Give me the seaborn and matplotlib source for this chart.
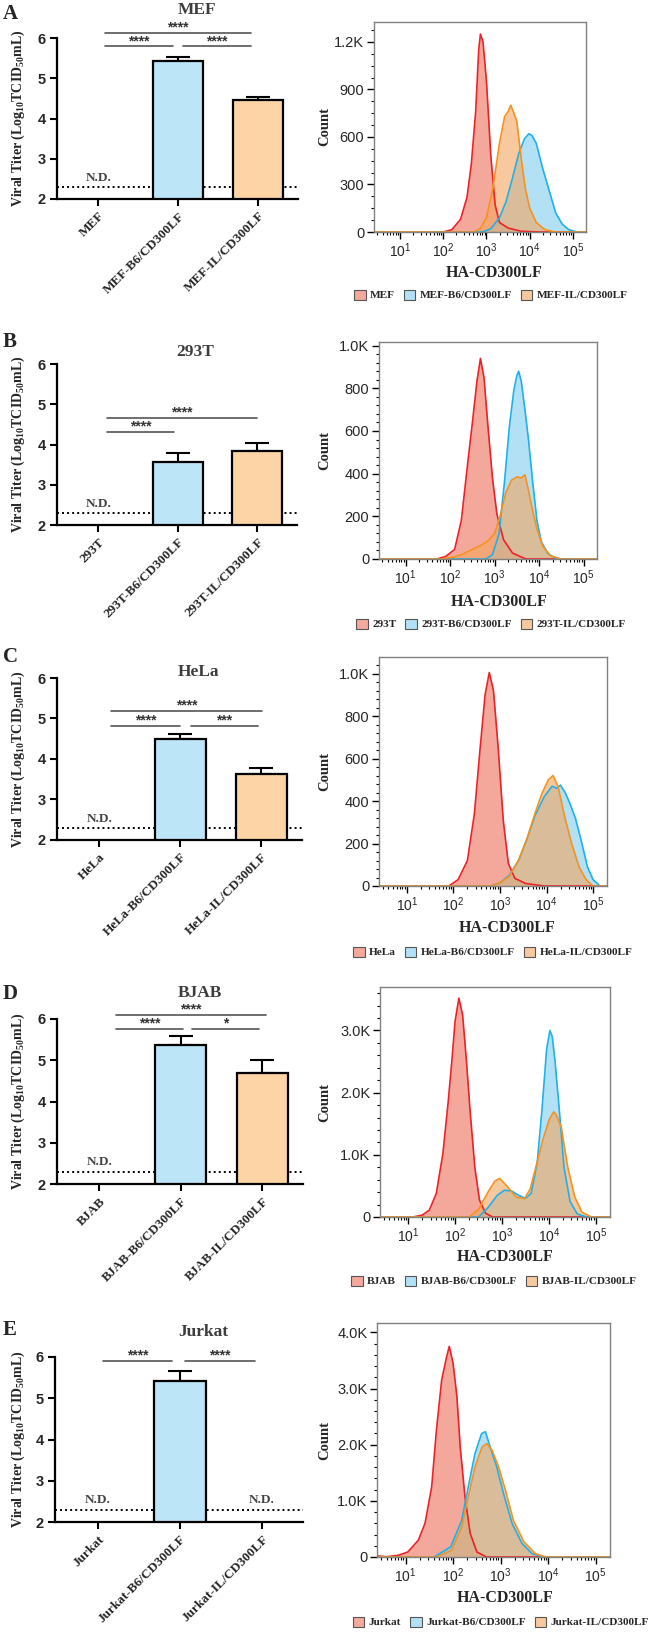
import numpy as np
import pandas as pd
import matplotlib
matplotlib.use("Agg")
import matplotlib.pyplot as plt
import seaborn as sns
from matplotlib.patches import Patch
from matplotlib.ticker import LogLocator, NullFormatter, AutoMinorLocator

sns.set_style("ticks")
plt.rcParams['font.family'] = ['Liberation Sans', 'DejaVu Sans']
plt.rcParams['mathtext.fontset'] = 'custom'
plt.rcParams['mathtext.rm'] = 'Liberation Serif:bold'
plt.rcParams['mathtext.bf'] = 'Liberation Serif:bold'
plt.rcParams['mathtext.it'] = 'Liberation Serif:italic:bold'
plt.rcParams['mathtext.sf'] = 'Liberation Sans'

SERIF = 'Liberation Serif'

# ---------------- data ----------------
panel_letters = ["A", "B", "C", "D", "E"]
cell_lines = ["MEF", "293T", "HeLa", "BJAB", "Jurkat"]
suffixes = ["", "-B6/CD300LF", "-IL/CD300LF"]

# mean viral titer (log10 TCID50/mL) and SEM, NaN = not detected
titer_mean = [
    [np.nan, 5.44, 4.45],
    [np.nan, 3.56, 3.83],
    [np.nan, 4.49, 3.64],
    [np.nan, 5.38, 4.70],
    [np.nan, 5.43, np.nan],
]
titer_sem = [
    [0, 0.10, 0.08],
    [0, 0.24, 0.20],
    [0, 0.12, 0.13],
    [0, 0.20, 0.30],
    [0, 0.22, 0],
]
detection_limit = 2.3

# significance brackets: (x1, x2, y, label)
sig_brackets = [
    [(0.08, 1.91, 6.12, "****"), (0.08, 0.93, 5.79, "****"), (1.06, 1.91, 5.79, "****")],
    [(0.11, 2.00, 4.67, "****"), (0.11, 0.95, 4.32, "****")],
    [(0.15, 2.01, 5.18, "****"), (0.15, 0.99, 4.82, "****"), (1.13, 1.96, 4.82, "***")],
    [(0.20, 2.05, 6.10, "****"), (0.20, 1.03, 5.75, "****"), (1.14, 1.96, 5.75, "*")],
    [(0.06, 0.91, 5.91, "****"), (1.06, 1.91, 5.91, "****")],
]

# flow histograms: log10(HA-CD300LF) vs count
mef_parent_x = [0.4, 2.0, 2.2, 2.4, 2.55, 2.65, 2.75, 2.82, 2.86, 2.92, 3.0, 3.1, 3.2, 3.3, 3.5, 3.8, 4.2, 5.3]
mef_parent_y = [0, 0, 15, 80, 220, 430, 760, 1150, 1250, 1200, 950, 480, 170, 60, 25, 5, 0, 0]
mef_b6_x = [0.4, 2.9, 3.1, 3.3, 3.45, 3.6, 3.75, 3.88, 3.98, 4.05, 4.15, 4.3, 4.45, 4.6, 4.75, 4.9, 5.1, 5.3]
mef_b6_y = [0, 0, 20, 90, 190, 340, 500, 590, 620, 610, 560, 400, 260, 120, 50, 15, 0, 0]
mef_il_x = [0.4, 2.7, 2.85, 3.0, 3.15, 3.3, 3.42, 3.5, 3.56, 3.62, 3.7, 3.8, 3.9, 4.0, 4.15, 4.35, 4.6, 5.3]
mef_il_y = [0, 0, 20, 90, 280, 560, 730, 760, 800, 760, 700, 470, 270, 150, 60, 15, 0, 0]

t293_parent_x = [0.4, 1.7, 1.9, 2.1, 2.25, 2.4, 2.5, 2.6, 2.68, 2.76, 2.85, 2.95, 3.05, 3.2, 3.4, 3.7, 5.3]
t293_parent_y = [0, 0, 12, 45, 180, 460, 640, 830, 940, 850, 620, 380, 210, 90, 28, 0, 0]
t293_b6_x = [0.4, 2.8, 2.95, 3.1, 3.22, 3.33, 3.43, 3.5, 3.54, 3.6, 3.68, 3.76, 3.85, 3.95, 4.05, 4.2, 4.4, 5.3]
t293_b6_y = [0, 0, 20, 120, 360, 620, 790, 860, 880, 830, 700, 560, 370, 180, 80, 25, 0, 0]
t293_il_x = [0.4, 1.8, 2.1, 2.3, 2.5, 2.7, 2.85, 3.0, 3.12, 3.25, 3.38, 3.5, 3.6, 3.68, 3.75, 3.85, 3.95, 4.08, 4.25, 4.5, 5.3]
t293_il_y = [0, 0, 10, 25, 45, 65, 85, 120, 200, 310, 370, 385, 380, 395, 330, 230, 140, 60, 15, 0, 0]

hela_parent_x = [0.4, 1.9, 2.1, 2.3, 2.45, 2.57, 2.68, 2.77, 2.86, 2.96, 3.07, 3.18, 3.32, 3.55, 3.95, 5.3]
hela_parent_y = [0, 0, 30, 120, 340, 640, 900, 1005, 920, 655, 310, 106, 36, 12, 0, 0]
hela_b6_x = [0.4, 2.8, 3.0, 3.2, 3.4, 3.57, 3.75, 3.95, 4.12, 4.22, 4.3, 4.4, 4.5, 4.62, 4.75, 4.88, 5.0, 5.15, 5.3]
hela_b6_y = [0, 0, 15, 50, 120, 215, 330, 420, 470, 460, 475, 440, 390, 320, 210, 90, 30, 0, 0]
hela_il_x = [0.4, 2.8, 3.0, 3.2, 3.4, 3.57, 3.75, 3.9, 4.04, 4.14, 4.25, 4.39, 4.54, 4.7, 4.85, 5.0, 5.3]
hela_il_y = [0, 0, 15, 45, 122, 216, 340, 435, 500, 520, 467, 326, 200, 90, 30, 0, 0]

bjab_parent_x = [0.4, 1.1, 1.3, 1.45, 1.6, 1.74, 1.85, 1.93, 2.0, 2.08, 2.16, 2.24, 2.32, 2.42, 2.52, 2.65, 2.8, 5.3]
bjab_parent_y = [0, 0, 30, 110, 380, 1020, 1830, 2500, 3150, 3520, 3250, 2530, 1700, 800, 270, 60, 0, 0]
bjab_b6_x = [0.4, 2.5, 2.7, 2.9, 3.05, 3.2, 3.35, 3.5, 3.62, 3.75, 3.85, 3.95, 4.02, 4.07, 4.13, 4.22, 4.32, 4.45, 4.6, 4.8, 5.3]
bjab_b6_y = [0, 0, 150, 350, 430, 420, 350, 300, 380, 880, 1720, 2700, 3000, 2900, 2500, 1720, 800, 250, 50, 0, 0]
bjab_il_x = [0.4, 2.3, 2.5, 2.7, 2.85, 2.95, 3.1, 3.3, 3.48, 3.6, 3.72, 3.87, 4.0, 4.1, 4.15, 4.26, 4.4, 4.55, 4.7, 4.9, 5.3]
bjab_il_y = [0, 0, 120, 400, 580, 620, 500, 320, 296, 450, 800, 1240, 1560, 1690, 1650, 1450, 800, 320, 80, 0, 0]

jurkat_parent_x = [0.4, 0.6, 0.85, 1.05, 1.27, 1.41, 1.55, 1.65, 1.76, 1.86, 1.92, 2.0, 2.08, 2.15, 2.25, 2.36, 2.5, 2.7, 5.3]
jurkat_parent_y = [20, 5, 30, 90, 300, 600, 1250, 2260, 3150, 3550, 3750, 3450, 2860, 1960, 1070, 420, 90, 0, 0]
jurkat_b6_x = [0.4, 1.6, 1.95, 2.18, 2.32, 2.46, 2.6, 2.68, 2.78, 2.92, 3.06, 3.24, 3.45, 3.66, 3.9, 5.3]
jurkat_b6_y = [0, 0, 180, 650, 1250, 1840, 2200, 2230, 1960, 1600, 1130, 600, 240, 60, 0, 0]
jurkat_il_x = [0.4, 1.65, 1.97, 2.18, 2.32, 2.46, 2.61, 2.71, 2.82, 2.96, 3.1, 3.27, 3.49, 3.73, 3.95, 5.3]
jurkat_il_y = [0, 0, 120, 535, 1070, 1600, 1960, 2020, 1900, 1600, 1190, 650, 270, 60, 0, 0]

hist_curves = [
    [(mef_parent_x, mef_parent_y), (mef_b6_x, mef_b6_y), (mef_il_x, mef_il_y)],
    [(t293_parent_x, t293_parent_y), (t293_b6_x, t293_b6_y), (t293_il_x, t293_il_y)],
    [(hela_parent_x, hela_parent_y), (hela_b6_x, hela_b6_y), (hela_il_x, hela_il_y)],
    [(bjab_parent_x, bjab_parent_y), (bjab_b6_x, bjab_b6_y), (bjab_il_x, bjab_il_y)],
    [(jurkat_parent_x, jurkat_parent_y), (jurkat_b6_x, jurkat_b6_y), (jurkat_il_x, jurkat_il_y)],
]
hist_ymax = [1326, 1017, 1078, 3699, 4167]
hist_ystep = [300, 200, 200, 1000, 1000]
hist_yminor = [4, 5, 5, 5, 5]

# ---------------- style ----------------
bar_colors = ["#ffffff", "#bde5f8", "#fdd4a6"]
fill_colors = ["#ee6e5a", "#7fcdf0", "#f4a55f"]
line_colors = ["#ec2227", "#1eb1ec", "#f6921e"]
legend_colors = ["#f5a89c", "#b2e1f6", "#f8c99f"]

W, H = 653, 1632


def rect(x0, x1, y0, y1):
    return [x0 / W, 1 - y1 / H, (x1 - x0) / W, (y1 - y0) / H]


bar_boxes = [(57, 298, 38, 199), (57, 297, 364, 525), (57, 302, 678, 840),
             (57, 303, 1019, 1184), (55, 303, 1357, 1522)]
hist_boxes = [(374, 586, 22, 232), (379, 597, 342, 559), (379, 607, 657, 886),
              (380, 610, 987, 1217), (377, 610, 1323, 1557)]
letter_y = [14, 342, 657, 994, 1330]
title_pos = [(197, 10), (195, 352), (198, 672), (200, 993), (203, 1332)]
xlabel_pos = [(494, 273), (499, 602), (507, 928), (505, 1257), (505, 1598)]
legend_pos = [(491, 295), (491, 624), (493, 952), (494, 1281), (501, 1622)]

fig = plt.figure(figsize=(W / 100, H / 100), dpi=100)

for k in range(5):
    name = cell_lines[k]
    cats = [name + s for s in suffixes]

    # ---------- bar chart ----------
    x0, x1, y0, y1 = bar_boxes[k]
    ax = fig.add_axes(rect(x0, x1, y0, y1))
    df = pd.DataFrame({"cat": cats, "titer": titer_mean[k], "sem": titer_sem[k]})
    ax.axhline(detection_limit, color="black", ls=(0, (1, 1.6)), lw=1.4, zorder=0.5)
    sns.barplot(data=df.dropna(), x="cat", y="titer", order=cats, hue="cat",
                palette=dict(zip(cats, bar_colors)), legend=False, saturation=1,
                edgecolor="black", linewidth=1.6, width=0.63, ax=ax, zorder=2)
    ok = df.dropna()
    pos = [cats.index(c) for c in ok["cat"]]
    ax.errorbar(pos, ok["titer"], yerr=[np.zeros(len(ok)), ok["sem"]], fmt="none",
                ecolor="black", elinewidth=1.5, capsize=8.5, capthick=1.5, zorder=1.5)
    for i, v in enumerate(titer_mean[k]):
        if np.isnan(v):
            ax.text(i, detection_limit + 0.08, "N.D.", ha="center", va="bottom",
                    family=SERIF, fontweight="bold", fontsize=9.5, color="#444444")
    for (a, b, y, lab) in sig_brackets[k]:
        ax.plot([a, b], [y, y], color="#555555", lw=1.2, clip_on=False)
        ax.annotate(lab, xy=((a + b) / 2, y), xytext=(0, 1), textcoords="offset points",
                    ha="center", va="baseline", fontsize=10, fontweight="bold",
                    color="#333333", annotation_clip=False)
    ax.set_xlim(-0.52, 2.5)
    ax.set_ylim(2, 6)
    ax.set_yticks([2, 3, 4, 5, 6], labels=["2", "3", "4", "5", "6"],
                  fontweight="bold", fontsize=10.5)
    ax.set_xticks([0, 1, 2], labels=cats, rotation=45, ha="right",
                  rotation_mode="anchor", family=SERIF, fontweight="bold", fontsize=9.5)
    ax.tick_params(axis="both", length=5, width=1.5, direction="out", pad=3, color="black")
    for sp in ["left", "bottom"]:
        ax.spines[sp].set_linewidth(1.6)
        ax.spines[sp].set_color("black")
    sns.despine(ax=ax)
    ax.set_xlabel("")
    ax.set_ylabel(r"Viral Titer (Log$_{10}$TCID$_{50}$mL)", family=SERIF,
                  fontweight="bold", fontsize=10)
    ax.yaxis.set_label_coords((27 - x0) / (x1 - x0), 0.5)

    fig.text(3 / W, 1 - letter_y[k] / H, panel_letters[k], family=SERIF,
             fontweight="bold", fontsize=15, va="center", ha="left")
    fig.text(title_pos[k][0] / W, 1 - title_pos[k][1] / H, name, family=SERIF,
             fontweight="bold", fontsize=12.5, color="#3d3d3d", ha="center", va="center")

    # ---------- histogram ----------
    hx0, hx1, hy0, hy1 = hist_boxes[k]
    hx = fig.add_axes(rect(hx0, hx1, hy0, hy1))
    for j, (lx, cy) in enumerate(hist_curves[k]):
        xs = 10 ** np.asarray(lx, dtype=float)
        hx.fill_between(xs, cy, color=fill_colors[j], alpha=0.6, lw=0)
        sns.lineplot(x=xs, y=cy, color=line_colors[j], lw=1.2, ax=hx,
                     sort=False, estimator=None)
    hx.set_xscale("log")
    hx.set_xlim(10 ** 0.4, 10 ** 5.3)
    hx.set_ylim(0, hist_ymax[k])
    hx.set_xticks([10, 100, 1e3, 1e4, 1e5],
                  labels=[r"$\mathsf{10^{%d}}$" % e for e in range(1, 6)], fontsize=10)
    hx.xaxis.set_minor_locator(LogLocator(base=10, subs=np.arange(2, 10)))
    hx.xaxis.set_minor_formatter(NullFormatter())
    yt = np.arange(0, hist_ymax[k], hist_ystep[k])
    ylabs = [("%.1fK" % (v / 1000)) if v >= 1000 else "%d" % v for v in yt]
    hx.set_yticks(yt, labels=ylabs, fontsize=10.5)
    hx.yaxis.set_minor_locator(AutoMinorLocator(hist_yminor[k]))
    hx.tick_params(which="major", length=5, width=1, color="black", direction="out", pad=2)
    hx.tick_params(which="minor", length=2.5, width=0.8, color="black", direction="out")
    for sp in hx.spines.values():
        sp.set_visible(True)
        sp.set_color("#808080")
        sp.set_linewidth(1)
    hx.set_xlabel("")
    hx.set_ylabel("Count", family=SERIF, fontweight="bold", fontsize=10.5)
    hx.yaxis.set_label_coords((331 - hx0) / (hx1 - hx0), 0.5)

    fig.text(xlabel_pos[k][0] / W, 1 - xlabel_pos[k][1] / H, "HA-CD300LF",
             family=SERIF, fontweight="bold", fontsize=11.5, ha="center", va="center")
    handles = [Patch(facecolor=legend_colors[j], edgecolor="#555555", lw=0.8)
               for j in range(3)]
    fig.legend(handles, cats, loc="center",
               bbox_to_anchor=(legend_pos[k][0] / W, 1 - legend_pos[k][1] / H),
               ncol=3, frameon=False, handlelength=1.0, handleheight=1.0,
               handletextpad=0.4, columnspacing=0.8,
               prop={"family": SERIF, "weight": "bold", "size": 8.1})

fig.savefig("out.png", dpi=100)
